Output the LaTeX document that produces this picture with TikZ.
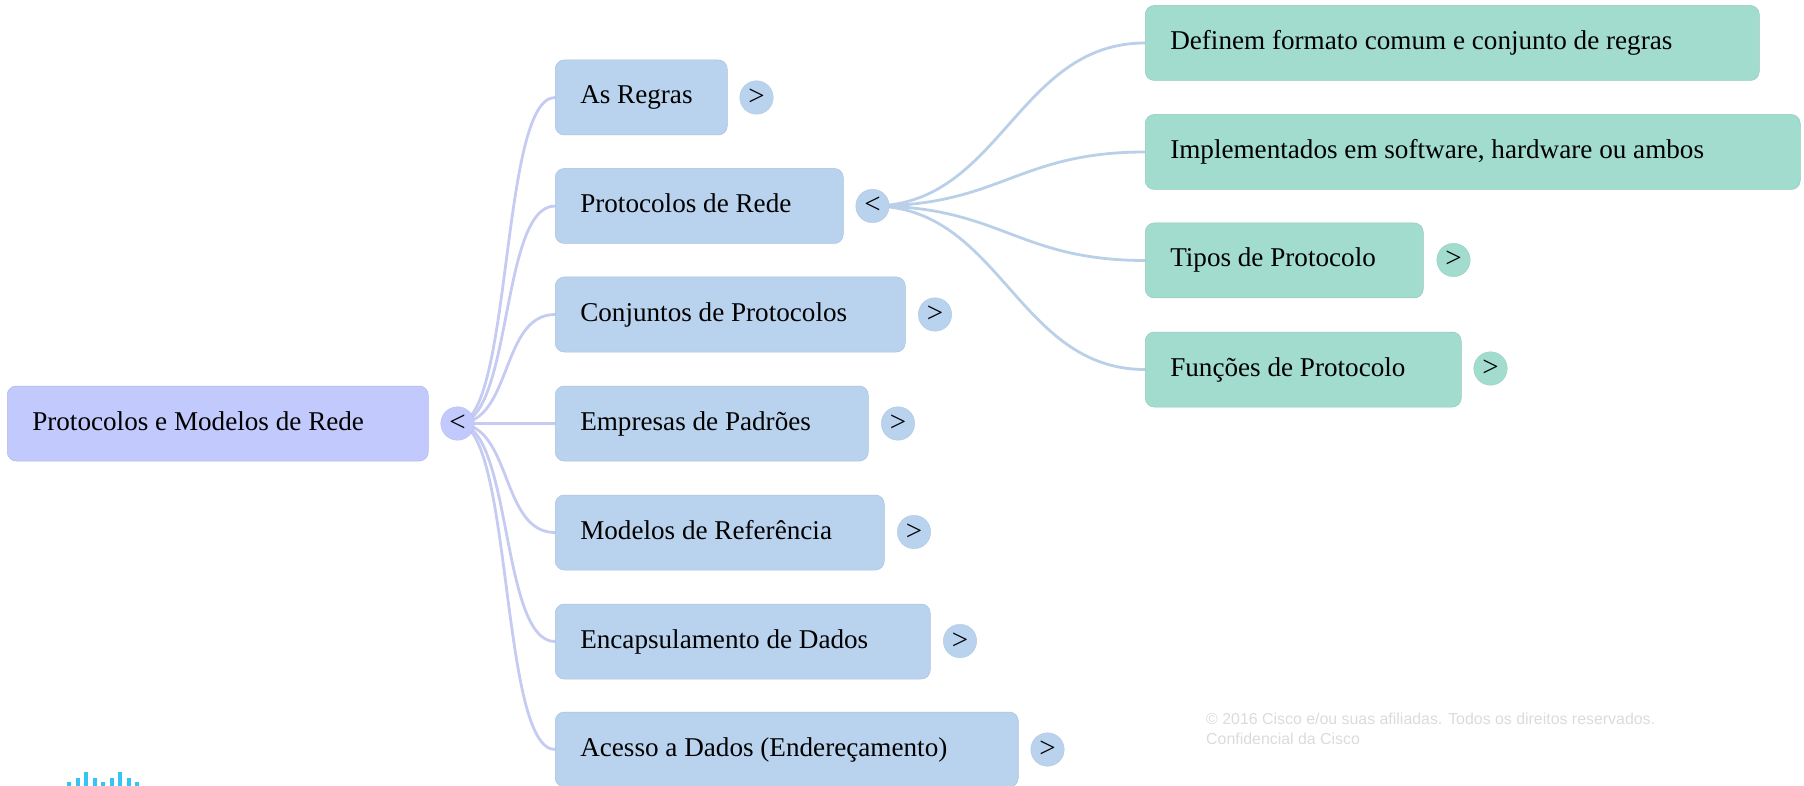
\documentclass[tikz,border=0pt]{standalone}
\usepackage{fontspec}
\usetikzlibrary{backgrounds}
\setmainfont{Liberation Serif}
\newfontfamily\footfont{Liberation Sans}
\definecolor{rootfill}{HTML}{C2C9FC}
\definecolor{subfill}{HTML}{B9D3EE}
\definecolor{leaffill}{HTML}{A1DCCE}
\definecolor{rootlink}{HTML}{C6CBF2}
\definecolor{sublink}{HTML}{BAD0E8}
\definecolor{ciscoblue}{HTML}{35C5F5}
\tikzset{
    topic/.style={rectangle, rounded corners=9pt, draw=#1!92!black, line width=0.5pt, fill=#1, anchor=west,
        minimum height=75pt, inner xsep=25pt, inner ysep=0pt, align=flush left, text height=18pt, text depth=5pt,
        font=\fontsize{27.15}{30}\selectfont},
    toggle/.style={circle, draw=#1!92!black, line width=0.3pt, fill=#1, minimum size=33.5pt, inner sep=0pt,
        text height=19pt, text depth=3pt, font=\fontsize{29}{30}\selectfont},
    branch/.style={line width=2.8pt, draw=#1, line cap=round},
    logobar/.style={line width=3.4pt, ciscoblue}
}
\begin{document}
\begin{tikzpicture}[x=1pt, y=-1pt]
    \useasboundingbox (0,0) rectangle (1804,786);
    % root
    \node[topic=rootfill, text width=371pt] (root) at (7,423.5) {Protocolos e Modelos de Rede};
    \node[toggle=rootfill] (rootbtn) at (457.5,423.5) {<};
    % first level
    \node[topic=subfill, text width=122pt] (regras) at (555,97.5) {As Regras};
    \node[topic=subfill, text width=238pt] (protocolos) at (555,206) {Protocolos de Rede};
    \node[topic=subfill, text width=300pt] (conjuntos) at (555,314.5) {Conjuntos de Protocolos};
    \node[topic=subfill, text width=263pt] (empresas) at (555,423.5) {Empresas de Padrões};
    \node[topic=subfill, text width=279pt] (modelos) at (555,532.5) {Modelos de Referência};
    \node[topic=subfill, text width=325pt] (encaps) at (555,641.5) {Encapsulamento de Dados};
    \node[topic=subfill, text width=413pt] (acesso) at (555,749.5) {Acesso a Dados (Endereçamento)};
    \node[toggle=subfill] (regrasbtn) at (756.5,97.5) {>};
    \node[toggle=subfill] (protocolosbtn) at (872.5,206) {<};
    \node[toggle=subfill] (conjuntosbtn) at (935,314.5) {>};
    \node[toggle=subfill] (empresasbtn) at (898,423.5) {>};
    \node[toggle=subfill] (modelosbtn) at (914,532) {>};
    \node[toggle=subfill] (encapsbtn) at (960,641) {>};
    \node[toggle=subfill] (acessobtn) at (1047.5,749.5) {>};
    % second level
    \node[topic=leaffill, text width=564pt] (formato) at (1145,43) {Definem formato comum e conjunto de regras};
    \node[topic=leaffill, text width=605pt] (software) at (1145,152) {Implementados em software, hardware ou ambos};
    \node[topic=leaffill, text width=228pt] (tipos) at (1145,260.5) {Tipos de Protocolo};
    \node[topic=leaffill, text width=266pt] (funcoes) at (1145,369.5) {Funções de Protocolo};
    \node[toggle=leaffill] (tiposbtn) at (1453.5,260) {>};
    \node[toggle=leaffill] (funcoesbtn) at (1490.5,368.5) {>};
    \begin{scope}[on background layer]
        % links from root
        \draw[branch=rootlink] (rootbtn.center) .. controls +(55,0) and +(-55,0) .. (regras.west);
        \draw[branch=rootlink] (rootbtn.center) .. controls +(55,0) and +(-55,0) .. (protocolos.west);
        \draw[branch=rootlink] (rootbtn.center) .. controls +(55,0) and +(-55,0) .. (conjuntos.west);
        \draw[branch=rootlink] (rootbtn.center) -- (empresas.west);
        \draw[branch=rootlink] (rootbtn.center) .. controls +(55,0) and +(-55,0) .. (modelos.west);
        \draw[branch=rootlink] (rootbtn.center) .. controls +(55,0) and +(-55,0) .. (encaps.west);
        \draw[branch=rootlink] (rootbtn.center) .. controls +(55,0) and +(-55,0) .. (acesso.west);
        % links from protocolos
        \draw[branch=sublink] (protocolosbtn.center) .. controls +(128,0) and +(-128,0) .. (formato.west);
        \draw[branch=sublink] (protocolosbtn.center) .. controls +(128,0) and +(-128,0) .. (software.west);
        \draw[branch=sublink] (protocolosbtn.center) .. controls +(128,0) and +(-128,0) .. (tipos.west);
        \draw[branch=sublink] (protocolosbtn.center) .. controls +(128,0) and +(-128,0) .. (funcoes.west);
    \end{scope}
    % footer
    \node[anchor=west, inner sep=0pt, align=flush left, text=black!14, font=\footfont\fontsize{15.9}{20}\selectfont] (rights) at (1206,728.5)
        {© 2016 Cisco e/ou suas afiliadas. Todos os direitos reservados.\\Confidencial da Cisco};
    % logo
    \draw[logobar] (69,782) -- (69,786);
    \draw[logobar] (78,778) -- (78,786);
    \draw[logobar] (86,772) -- (86,786);
    \draw[logobar] (95,778) -- (95,786);
    \draw[logobar] (103,782) -- (103,786);
    \draw[logobar] (112,778) -- (112,786);
    \draw[logobar] (120,772) -- (120,786);
    \draw[logobar] (129,778) -- (129,786);
    \draw[logobar] (137,782) -- (137,786);
\end{tikzpicture}
\end{document}
